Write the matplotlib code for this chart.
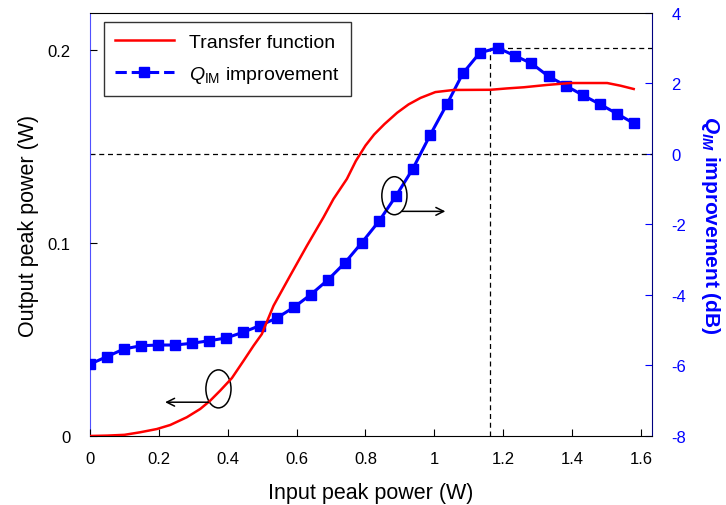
import matplotlib
matplotlib.use('Agg')
import matplotlib.pyplot as plt
from matplotlib.lines import Line2D
from matplotlib.patches import Ellipse
from matplotlib.ticker import FormatStrFormatter

plt.rcParams['font.family'] = ['Liberation Sans', 'DejaVu Sans']
plt.rcParams['axes.unicode_minus'] = False
plt.rcParams['mathtext.fontset'] = 'custom'
plt.rcParams['mathtext.rm'] = 'Liberation Sans'
plt.rcParams['mathtext.it'] = 'Liberation Sans:italic'
plt.rcParams['mathtext.bf'] = 'Liberation Sans:bold:italic'

# transfer function (left axis, W)
tf_x = [0, 0.05, 0.10, 0.145, 0.194, 0.233, 0.281, 0.32, 0.349, 0.378, 0.412,
        0.446, 0.475, 0.499, 0.509, 0.533, 0.581, 0.630, 0.678, 0.707, 0.746,
        0.772, 0.80, 0.825, 0.855, 0.892, 0.925, 0.96, 1.003, 1.056, 1.163,
        1.211, 1.26, 1.327, 1.395, 1.502, 1.541, 1.579]
tf_y = [0, 0.0002, 0.0006, 0.0019, 0.0036, 0.0057, 0.0097, 0.014, 0.0183,
        0.0235, 0.030, 0.039, 0.0468, 0.0528, 0.0572, 0.0675, 0.083, 0.0986,
        0.1133, 0.1228, 0.1332, 0.1425, 0.1505, 0.1562, 0.1616, 0.1675, 0.1718,
        0.1752, 0.1782, 0.1793, 0.1794, 0.1801, 0.1807, 0.1819, 0.1829, 0.1829,
        0.1815, 0.1798]

# Q_IM improvement (right axis, dB)
q_x = [0, 0.049, 0.099, 0.148, 0.197, 0.247, 0.296, 0.345, 0.395, 0.444,
       0.493, 0.543, 0.592, 0.641, 0.691, 0.740, 0.789, 0.839, 0.888, 0.937,
       0.988, 1.037, 1.083, 1.132, 1.184, 1.233, 1.282, 1.332, 1.381, 1.431,
       1.481, 1.531, 1.579]
q_y = [-5.96, -5.75, -5.53, -5.44, -5.42, -5.42, -5.37, -5.30, -5.22, -5.06,
       -4.87, -4.65, -4.35, -3.99, -3.57, -3.09, -2.52, -1.91, -1.20, -0.43,
       0.54, 1.42, 2.29, 2.87, 3.01, 2.79, 2.57, 2.20, 1.94, 1.67,
       1.41, 1.14, 0.87]

opt_x = 1.161
opt_q = 3.0

fig = plt.figure(figsize=(7.26, 5.06), dpi=100)
ax1 = fig.add_axes([0.124, 0.1364, 0.774, 0.836])
ax2 = ax1.twinx()

# blue curve on right axis
ax2.plot(q_x, q_y, color='#0000ff', lw=2.2, marker='s', ms=7.5, zorder=3)
ax2.axhline(0, color='black', lw=0.9, ls=(0, (4, 3)))
ax2.plot([opt_x, 1.7], [opt_q, opt_q], color='black', lw=0.9, ls=(0, (4, 3)))
ax2.plot([opt_x, opt_x], [-8, opt_q], color='black', lw=0.9, ls=(0, (4, 3)))
ax2.set_ylim(-8, 4)
ax2.set_yticks([-8, -6, -4, -2, 0, 2, 4])
ax2.tick_params(axis='y', direction='in', length=5, colors='#0000ff',
                labelsize=12, pad=14)
ax2.set_ylabel(r'$\mathbf{Q_{IM}}$ improvement (dB)', color='#0000ff',
               fontsize=15, fontweight='bold', rotation=270, labelpad=26)
ax2.spines['right'].set_color('#000080')
ax2.spines['left'].set_color('#5050ff')

# red curve on left axis, drawn above the blue one
ax1.set_zorder(ax2.get_zorder() + 1)
ax1.patch.set_visible(False)
ax1.plot(tf_x, tf_y, color='#ff0000', lw=1.8)
ax1.set_xlim(0, 1.632)
ax1.set_ylim(0, 0.2192)
ax1.set_xticks([0, 0.2, 0.4, 0.6, 0.8, 1.0, 1.2, 1.4, 1.6])
ax1.set_yticks([0, 0.1, 0.2])
ax1.xaxis.set_major_formatter(FormatStrFormatter('%g'))
ax1.yaxis.set_major_formatter(FormatStrFormatter('%g'))
ax1.tick_params(direction='in', length=5, labelsize=12)
ax1.tick_params(axis='x', pad=11)
ax1.tick_params(axis='y', pad=14)
ax1.set_xlabel('Input peak power (W)', fontsize=15.5, labelpad=11)
ax1.set_ylabel('Output peak power (W)', fontsize=15.5, labelpad=6)
for s in ['left', 'right', 'top', 'bottom']:
    ax1.spines[s].set_visible(False)

# ellipses + arrows
ax1.add_patch(Ellipse((0.884, 0.1245), 0.073, 0.0197, fill=False,
                      ec='black', lw=1.1))
ax1.annotate('', xy=(1.032, 0.1164), xytext=(0.906, 0.1164),
             arrowprops=dict(arrowstyle='->', color='black', lw=1.1,
                             mutation_scale=14, shrinkA=0, shrinkB=0))
ax1.add_patch(Ellipse((0.373, 0.0244), 0.073, 0.0197, fill=False,
                      ec='black', lw=1.1))
ax1.annotate('', xy=(0.218, 0.0175), xytext=(0.344, 0.0175),
             arrowprops=dict(arrowstyle='->', color='black', lw=1.1,
                             mutation_scale=14, shrinkA=0, shrinkB=0))

handles = [Line2D([], [], color='#ff0000', lw=1.8),
           Line2D([], [], color='#0000ff', lw=2.2, ls='--', marker='s', ms=7.5)]
leg = ax1.legend(handles, ['Transfer function', r'$Q_{\rm IM}$ improvement'],
                 loc='upper left', bbox_to_anchor=(0.024, 0.979),
                 borderaxespad=0, fontsize=14,
                 frameon=True, fancybox=False, edgecolor='black',
                 handlelength=3.0, borderpad=0.6, labelspacing=0.65,
                 handletextpad=0.8)
leg.get_frame().set_linewidth(1.0)

fig.savefig('out.png', dpi=100)
